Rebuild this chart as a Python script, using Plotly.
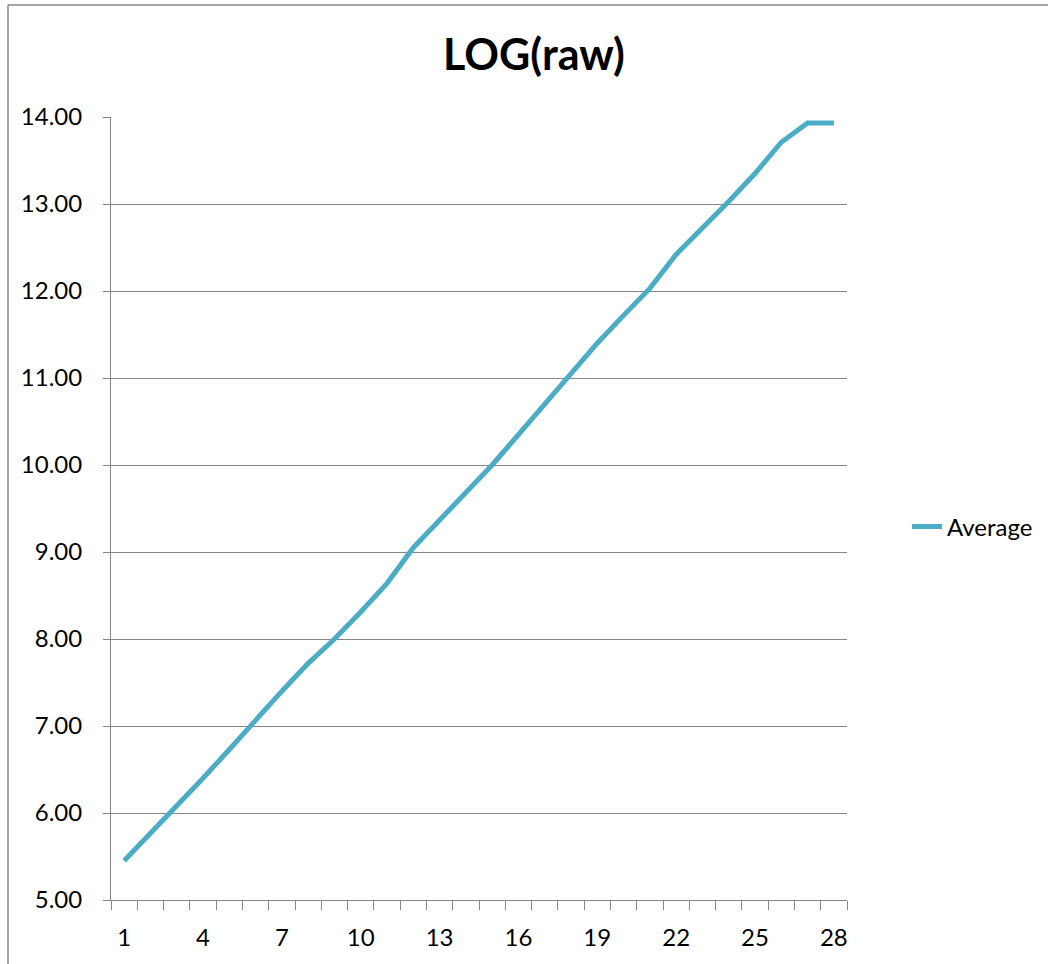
import plotly.graph_objects as go

# Series: LOG(raw) average per sample index
categories = list(range(1, 29))
average = [5.45, 5.76, 6.07, 6.40, 6.73, 7.07, 7.40, 7.72, 8.00, 8.31,
           8.64, 9.05, 9.37, 9.70, 10.00, 10.35, 10.70, 11.06, 11.40, 11.72,
           12.03, 12.42, 12.72, 13.03, 13.35, 13.71, 13.93, 13.93]
x_tick_labels = [1, 4, 7, 10, 13, 16, 19, 22, 25, 28]
y_ticks = [5, 6, 7, 8, 9, 10, 11, 12, 13, 14]

W, H = 1048, 964
GRID = "#868686"
LINE = "#4BACC6"
FONT = "Lato, 'Open Sans', sans-serif"

fig = go.Figure()
fig.add_trace(go.Scatter(
    x=categories, y=average, mode="lines", name="Average",
    line=dict(color=LINE, width=5),
))

fig.update_layout(
    width=W, height=H,
    margin=dict(l=111, r=201, t=117, b=64, pad=0),
    paper_bgcolor="white", plot_bgcolor="white",
    font=dict(family=FONT, size=23, color="black"),
    title=dict(text="<b>LOG(raw)</b>", x=534 / W, xanchor="center",
               y=1 - 55 / H, yanchor="middle",
               font=dict(family=FONT, size=43, color="black")),
    showlegend=True,
    legend=dict(xref="container", yref="container",
                x=907 / W, xanchor="left", y=1 - 527 / H, yanchor="middle",
                font=dict(family=FONT, size=24), bgcolor="rgba(0,0,0,0)"),
    xaxis=dict(
        range=[0.5, 28.5], tickmode="array", tickvals=x_tick_labels,
        ticktext=[str(v) for v in x_tick_labels], ticks="",
        showgrid=False, zeroline=False, showline=True, linecolor=GRID,
        linewidth=1, ticklabelstandoff=16, tickfont=dict(size=24),
        minor=dict(ticks="outside", tick0=0.5, dtick=1, ticklen=9,
                   tickcolor=GRID, tickwidth=1, showgrid=False),
    ),
    yaxis=dict(
        range=[5, 14], tickmode="array", tickvals=y_ticks,
        ticktext=[f"{v:.2f}" for v in y_ticks],
        ticks="outside", ticklen=7, tickcolor=GRID, tickwidth=1,
        showgrid=True, gridcolor=GRID, gridwidth=1, zeroline=False,
        showline=True, linecolor=GRID, linewidth=1, ticklabelstandoff=16,
        tickfont=dict(size=24),
    ),
    shapes=[
        # chart area frame
        dict(type="line", xref="paper", yref="paper",
             x0=(8 - 111) / (W - 111 - 201), x1=(W + 5 - 111) / (W - 111 - 201),
             y0=(H - 5 - 64) / (H - 117 - 64), y1=(H - 5 - 64) / (H - 117 - 64),
             line=dict(color=GRID, width=1.5)),
        dict(type="line", xref="paper", yref="paper",
             x0=(8 - 111) / (W - 111 - 201), x1=(8 - 111) / (W - 111 - 201),
             y0=(H - 5 - 64) / (H - 117 - 64), y1=-0.2,
             line=dict(color=GRID, width=1.5)),
    ],
)

fig.write_html("out.html")
